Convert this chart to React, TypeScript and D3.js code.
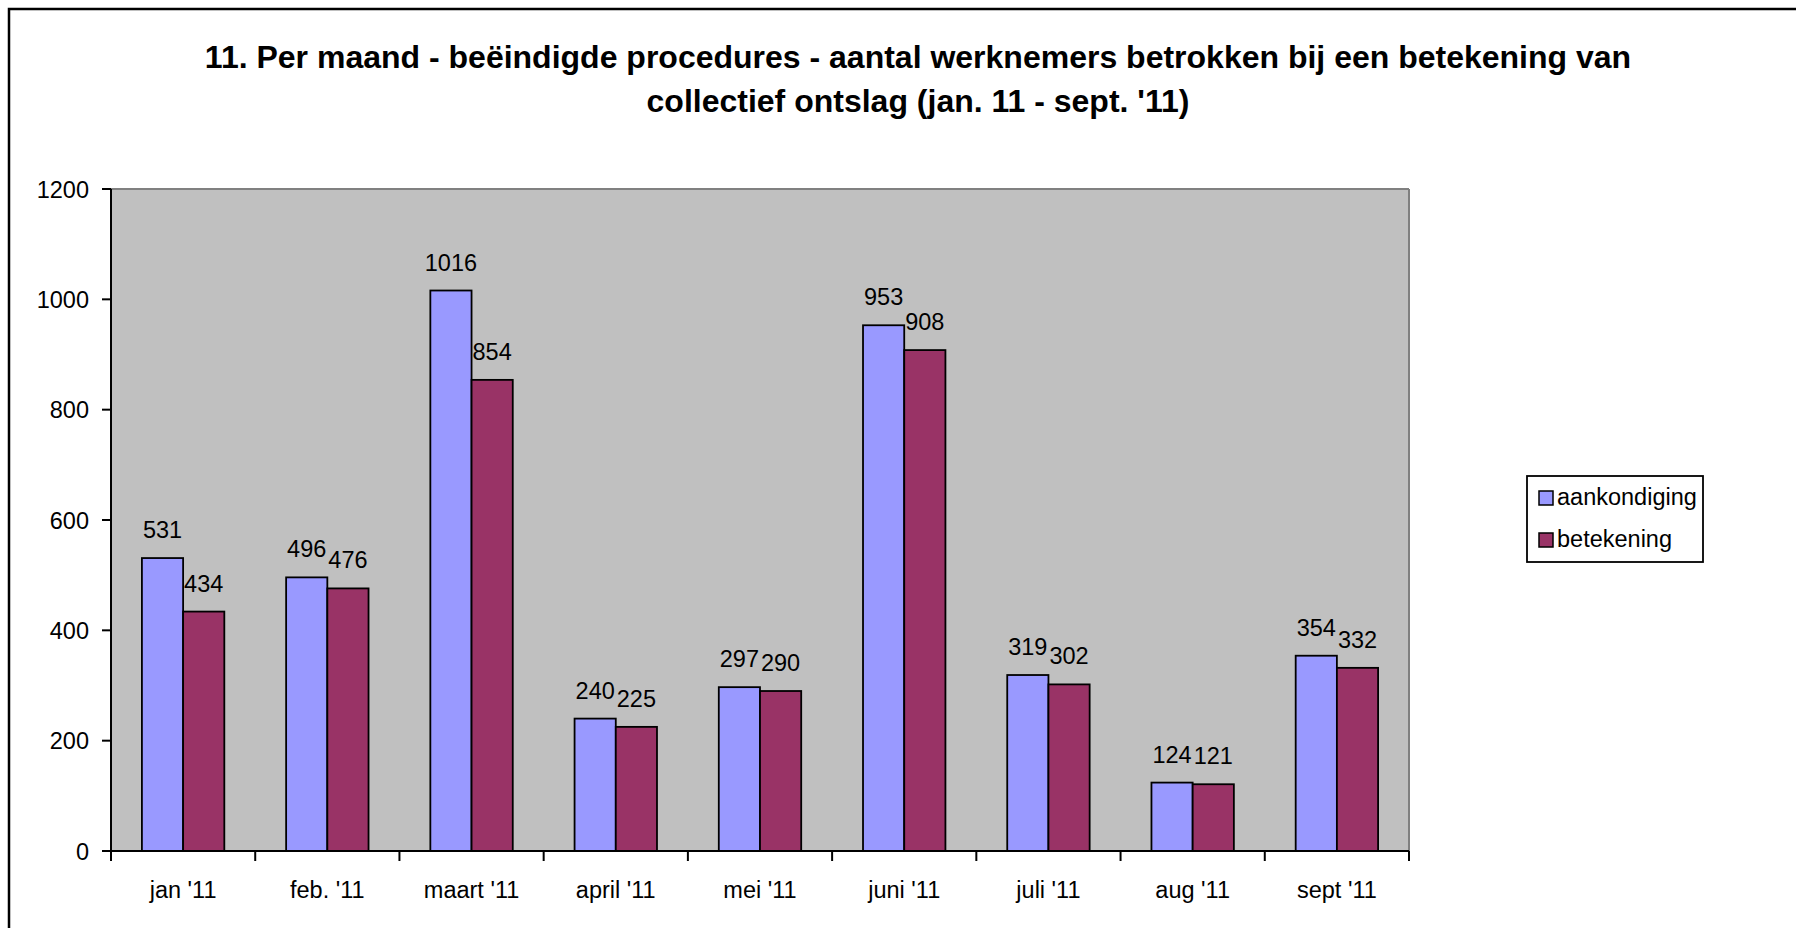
import React, { useEffect } from "react";
import * as d3 from "d3";

const categories = ["jan '11", "feb. '11", "maart '11", "april '11", "mei '11", "juni '11", "juli '11", "aug '11", "sept '11"];
const aankondiging = [531, 496, 1016, 240, 297, 953, 319, 124, 354];
const betekening = [434, 476, 854, 225, 290, 908, 302, 121, 332];
const seriesNames = ["aankondiging", "betekening"];
const seriesColors = ["#9999FF", "#993366"];
const yTicks = [0, 200, 400, 600, 800, 1000, 1200];
const titleLines = [
  "11. Per maand - beëindigde procedures - aantal werknemers betrokken bij een betekening van",
  "collectief ontslag (jan. 11 - sept. '11)",
];

const W = 1796;
const H = 928;
const plot = { left: 111, right: 1409, top: 189, bottom: 851 };
const FONT = "'Liberation Sans', Arial, sans-serif";
const FS = 23.5;

export default function App() {
  useEffect(() => {
    document.body.style.margin = "0";
    document.body.style.overflow = "hidden";
  }, []);

  const x = d3.scaleBand<string>().domain(categories).range([plot.left, plot.right]).paddingInner(0).paddingOuter(0);
  const bw = x.bandwidth();
  // Excel gap width 150%: each bar = band / (2 + 1.5)
  const barW = bw / 3.5;
  const x1 = d3.scaleBand<string>().domain(seriesNames).range([barW * 0.75, barW * 0.75 + barW * 2]);
  const y = d3.scaleLinear().domain([0, 1200]).range([plot.bottom, plot.top]);
  const data = [aankondiging, betekening];

  return (
    <svg width={W} height={H} style={{ position: "absolute", left: 0, top: 0, background: "#fff" }} fontFamily={FONT}>
      <rect x={9} y={9} width={W + 20} height={H + 20} fill="#fff" stroke="#000" strokeWidth={2.5} />
      {titleLines.map((t, i) => (
        <text key={i} x={918} y={68 + i * 44} textAnchor="middle" fontSize={32} fontWeight="bold" fill="#000">
          {t}
        </text>
      ))}
      <rect x={plot.left} y={plot.top} width={plot.right - plot.left} height={plot.bottom - plot.top} fill="#C0C0C0" />
      <line x1={plot.left} x2={plot.right} y1={plot.top} y2={plot.top} stroke="#808080" strokeWidth={2} />
      <line x1={plot.right} x2={plot.right} y1={plot.top} y2={plot.bottom} stroke="#808080" strokeWidth={2} />
      {categories.map((c, ci) =>
        seriesNames.map((s, si) => {
          const v = data[si][ci];
          const bx = (x(c) as number) + (x1(s) as number);
          return (
            <g key={c + s}>
              <rect x={bx} y={y(v)} width={x1.bandwidth()} height={y(0) - y(v)} fill={seriesColors[si]} stroke="#000" strokeWidth={1.8} />
              <text x={bx + x1.bandwidth() / 2} y={y(v) - 20} textAnchor="middle" fontSize={FS} fill="#000">
                {v}
              </text>
            </g>
          );
        })
      )}
      <line x1={plot.left} x2={plot.left} y1={plot.top} y2={plot.bottom} stroke="#000" strokeWidth={2} />
      <line x1={plot.left} x2={plot.right} y1={plot.bottom} y2={plot.bottom} stroke="#000" strokeWidth={2} />
      {yTicks.map((t) => (
        <g key={t}>
          <line x1={plot.left - 9} x2={plot.left} y1={y(t)} y2={y(t)} stroke="#000" strokeWidth={2} />
          <text x={89} y={y(t) + 8.5} textAnchor="end" fontSize={FS} fill="#000">
            {t}
          </text>
        </g>
      ))}
      {[...categories.map((c) => x(c) as number), plot.right].map((px, i) => (
        <line key={i} x1={px} x2={px} y1={plot.bottom} y2={plot.bottom + 10} stroke="#000" strokeWidth={2} />
      ))}
      {categories.map((c) => (
        <text key={c} x={(x(c) as number) + bw / 2} y={898} textAnchor="middle" fontSize={FS} fill="#000">
          {c}
        </text>
      ))}
      <rect x={1527} y={476} width={176} height={86} fill="#fff" stroke="#000" strokeWidth={1.8} />
      {seriesNames.map((s, i) => (
        <g key={s}>
          <rect x={1539} y={491 + i * 42} width={14} height={14} fill={seriesColors[i]} stroke="#000" strokeWidth={1.5} />
          <text x={1557} y={505 + i * 42} fontSize={FS} fill="#000">
            {s}
          </text>
        </g>
      ))}
    </svg>
  );
}
